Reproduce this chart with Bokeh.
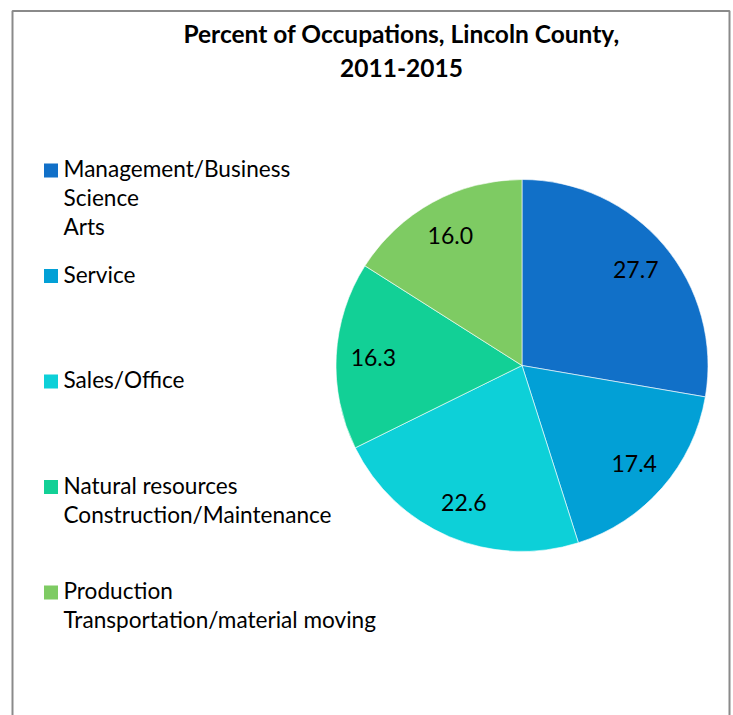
import math
from bokeh.plotting import figure
from bokeh.models import Range1d, ColumnDataSource
from bokeh.core.properties import value
from bokeh.embed import file_html
from bokeh.resources import INLINE

# ---- data ----
title_lines = ["Percent of Occupations, Lincoln County,", "2011-2015"]
categories = [
    "Management/Business\nScience\nArts",
    "Service",
    "Sales/Office",
    "Natural resources\nConstruction/Maintenance",
    "Production\nTransportation/material moving",
]
values = [27.7, 17.4, 22.6, 16.3, 16.0]
colors = ["#1170C8", "#02A0D6", "#0DD0D8", "#12D096", "#7ECB63"]

W, H = 733, 715
FONT = "Lato"

def Y(sy):
    # page pixel row -> data y
    return H - sy

p = figure(width=W, height=H, output_backend="svg", toolbar_location=None,
           x_range=Range1d(0, W), y_range=Range1d(0, H),
           min_border=0, outline_line_color=None)
p.axis.visible = False
p.grid.visible = False
p.background_fill_color = "white"
p.border_fill_color = "white"

# frame
p.line(x=[12, 12, 729, 729], y=[Y(730), Y(10.5), Y(10.5), Y(730)],
       line_color="#8a8a8a", line_width=2)

# title
for i, t in enumerate(title_lines):
    p.text(x=[401], y=[Y(32.5 + 34.5 * i)], text=[t], text_font=value(FONT),
           text_font_style="bold", text_font_size="24.5px", text_color="black",
           text_align="center", text_baseline="middle")

# pie
cx, cy, r = 521.5, Y(365), 186
total = sum(values)
starts, ends, lx, ly, lbl = [], [], [], [], []
cum = 0.0
for v in values:
    a0 = math.pi / 2 - 2 * math.pi * cum / total
    cum += v
    a1 = math.pi / 2 - 2 * math.pi * cum / total
    starts.append(a0)
    ends.append(a1)
    mid = (a0 + a1) / 2
    lx.append(cx + 0.8 * r * math.cos(mid))
    ly.append(cy + 0.8 * r * math.sin(mid))
    lbl.append(f"{v:.1f}")

src = ColumnDataSource(dict(start=starts, end=ends, color=colors))
p.wedge(x=cx, y=cy, radius=r, start_angle="start", end_angle="end",
        direction="clock", fill_color="color", line_color="white",
        line_width=0.6, source=src)
p.text(x=lx, y=ly, text=lbl, text_font=value(FONT), text_font_size="23px",
       text_color="black", text_align="center", text_baseline="middle")

# legend
top0, step, lh = 169.5, 105.5, 29
sqx, sqy, tx, ty, tt = [], [], [], [], []
for i, cat in enumerate(categories):
    base = top0 + step * i
    sqx.append(50.5)
    sqy.append(Y(base + 0.5))
    for j, line in enumerate(cat.split("\n")):
        tx.append(63)
        ty.append(Y(base - 1.5 + lh * j))
        tt.append(line)
p.rect(x=sqx, y=sqy, width=14, height=14, fill_color=colors, line_color=None)
p.text(x=tx, y=ty, text=tt, text_font=value(FONT), text_font_size="22.6px",
       text_color="black", text_align="left", text_baseline="middle")

open("out.html", "w").write(file_html(p, INLINE))
